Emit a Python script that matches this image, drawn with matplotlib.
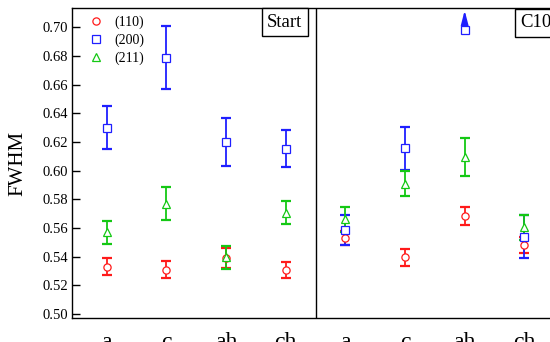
import matplotlib
matplotlib.use("Agg")
import matplotlib.pyplot as plt
import numpy as np

# ---- data ----
categories = ["a", "c", "ah", "ch", "a", "c", "ah", "ch"]
series_names = ["(110)", "(200)", "(211)"]

fwhm_110 = [0.533, 0.531, 0.539, 0.5305, 0.553, 0.5396, 0.5684, 0.548]
err_110 = [0.006, 0.006, 0.0067, 0.0056, 0.005, 0.006, 0.0065, 0.0055]

fwhm_200 = [0.630, 0.6787, 0.620, 0.6154, 0.5586, 0.6155, 0.698, 0.554]
err_200 = [0.015, 0.022, 0.017, 0.013, 0.0105, 0.015, np.nan, 0.015]

fwhm_211 = [0.557, 0.577, 0.5395, 0.5705, 0.566, 0.591, 0.6098, 0.5605]
err_211 = [0.008, 0.0115, 0.008, 0.008, 0.0085, 0.009, 0.0133, 0.0087]

panel_labels = ["Start", "C100"]
yticks = [0.50, 0.52, 0.54, 0.56, 0.58, 0.60, 0.62, 0.64, 0.66, 0.68, 0.70]

red = "#ff1a1a"
blue = "#1f1fff"
green = "#14c814"

plt.rcParams['font.family'] = ['Liberation Serif', 'DejaVu Serif']

fig = plt.figure(figsize=(5.5, 3.42), dpi=100)
ax = fig.add_axes([72/550, 1 - 318/342, 487/550, 310/342])

x = np.arange(len(categories))

def draw(vals, errs, color, marker, label):
    vals = np.array(vals, dtype=float)
    errs = np.array(errs, dtype=float)
    ok = ~np.isnan(errs)
    ax.errorbar(x[ok], vals[ok], yerr=errs[ok], fmt='none', ecolor=color,
                elinewidth=1.3, capsize=3.6, capthick=1.6, zorder=2)
    ax.plot(x, vals, linestyle='none', marker=marker, markersize=5.2,
            markerfacecolor='white', markeredgecolor=color, markeredgewidth=0.9,
            label=label, zorder=3)

draw(fwhm_110, err_110, red, 'o', series_names[0])
draw(fwhm_200, err_200, blue, 's', series_names[1])
draw(fwhm_211, err_211, green, '^', series_names[2])

# arrow for off-scale error bar
idx = 6
ax.annotate('', xy=(x[idx], 0.7118), xytext=(x[idx], 0.7017),
            arrowprops=dict(arrowstyle='-|>,head_length=0.85,head_width=0.22',
                            color=blue, lw=1.3, shrinkA=0, shrinkB=0),
            zorder=2)

ax.set_xlim(-0.581, 7.581)
ax.set_ylim(0.4972, 0.7135)
ax.axvline(3.5, color='black', lw=1.0)

ax.set_yticks(yticks)
ax.set_yticklabels([f"{v:.2f}" for v in yticks])
ax.tick_params(axis='y', direction='in', length=6, width=1.0, labelsize=10.5, pad=3)
ax.set_xticks(x)
ax.set_xticklabels(categories)
ax.tick_params(axis='x', length=0, labelsize=17, pad=10)

for s in ax.spines.values():
    s.set_linewidth(1.0)

ax.set_ylabel("FWHM", fontsize=15, labelpad=11)

leg = ax.legend(loc='upper left', frameon=False, fontsize=10, handletextpad=0.8,
                borderaxespad=0.3, labelspacing=0.32, handlelength=1.0,
                bbox_to_anchor=(0.016, 1.008))

bbox = dict(boxstyle='square,pad=0.28', facecolor='white', edgecolor='black', lw=1.0)
ax.text(3.5 - 0.22, 0.7095, panel_labels[0], ha='right', va='top', fontsize=13.5, bbox=bbox)
ax.text(6.93, 0.7090, panel_labels[1], ha='left', va='top', fontsize=13.5, bbox=bbox)

fig.savefig("out.png", dpi=100)
